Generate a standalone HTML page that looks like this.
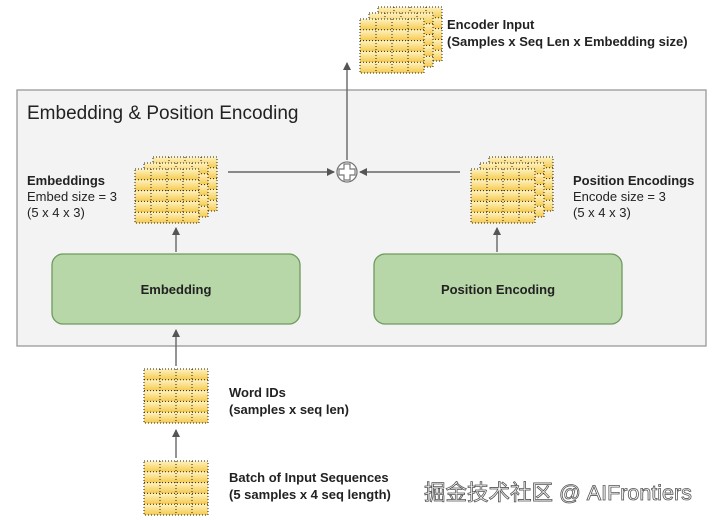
<!DOCTYPE html>
<html><head><meta charset="utf-8"><style>
body{margin:0;background:#fff}
svg{display:block;font-family:"Liberation Sans","Noto Sans CJK SC",sans-serif}
</style></head><body>
<svg width="720" height="520" viewBox="0 0 720 520">
<defs>
<linearGradient id="cg" x1="0" y1="0" x2="0" y2="1">
<stop offset="0" stop-color="#fff3c0"/><stop offset="1" stop-color="#f5c94e"/>
</linearGradient>
<g id="grid">
<rect x="0" y="0" width="64" height="54" fill="#f8d97a"/>
<g fill="url(#cg)">
<rect x="0" y="0" width="64" height="10.8"/><rect x="0" y="10.8" width="64" height="10.8"/>
<rect x="0" y="21.6" width="64" height="10.8"/><rect x="0" y="32.4" width="64" height="10.8"/>
<rect x="0" y="43.2" width="64" height="10.8"/>
</g>
<g stroke="#222" stroke-width="1" stroke-dasharray="1 2" fill="none">
<rect x="0" y="0" width="64" height="54"/>
<line x1="0" y1="10.8" x2="64" y2="10.8"/><line x1="0" y1="21.6" x2="64" y2="21.6"/>
<line x1="0" y1="32.4" x2="64" y2="32.4"/><line x1="0" y1="43.2" x2="64" y2="43.2"/>
<line x1="16" y1="0" x2="16" y2="54"/><line x1="32" y1="0" x2="32" y2="54"/><line x1="48" y1="0" x2="48" y2="54"/>
</g>
</g>
<g id="stack">
<use href="#grid" x="18" y="-12"/><use href="#grid" x="9" y="-6"/><use href="#grid" x="0" y="0"/>
</g>
<marker id="ah" markerWidth="8" markerHeight="8" refX="7" refY="4" orient="auto" markerUnits="userSpaceOnUse">
<path d="M0,0 L8,4 L0,8 z" fill="#555"/>
</marker>
</defs>

<rect x="17" y="90" width="689" height="256" fill="#f3f3f3" stroke="#999" stroke-width="1.3"/>
<text x="27" y="119" font-size="19" fill="#222">Embedding &amp; Position Encoding</text>

<use href="#stack" x="360" y="19"/>
<text x="447" y="29" font-size="13" font-weight="bold" fill="#222">Encoder Input</text>
<text x="447" y="46" font-size="13" font-weight="bold" fill="#222">(Samples x Seq Len x Embedding size)</text>

<use href="#stack" x="135" y="169"/>
<text x="27" y="185" font-size="13" font-weight="bold" fill="#222">Embeddings</text>
<text x="27" y="201" font-size="13" fill="#222">Embed size = 3</text>
<text x="27" y="217" font-size="13" fill="#222">(5 x 4 x 3)</text>

<use href="#stack" x="471" y="169"/>
<text x="573" y="185" font-size="13" font-weight="bold" fill="#222">Position Encodings</text>
<text x="573" y="201" font-size="13" fill="#222">Encode size = 3</text>
<text x="573" y="217" font-size="13" fill="#222">(5 x 4 x 3)</text>

<circle cx="347" cy="172" r="10" fill="#fff" stroke="#777" stroke-width="1.3"/>
<path d="M344,164 h6 v5 h5 v6 h-5 v5 h-6 v-5 h-5 v-6 h5 z" fill="#fff" stroke="#777" stroke-width="1.2"/>

<g stroke="#666" stroke-width="1.4" fill="none" marker-end="url(#ah)">
<line x1="228" y1="172" x2="334" y2="172"/>
<line x1="460" y1="172" x2="360" y2="172"/>
<line x1="347" y1="160" x2="347" y2="63"/>
<line x1="176" y1="252" x2="176" y2="228"/>
<line x1="497" y1="252" x2="497" y2="228"/>
<line x1="176" y1="366" x2="176" y2="330"/>
<line x1="176" y1="458" x2="176" y2="430"/>
</g>

<rect x="52" y="254" width="248" height="70" rx="11" fill="#b7d7a8" stroke="#6e9a5e" stroke-width="1.3"/>
<text x="176" y="294" font-size="13" font-weight="bold" text-anchor="middle" fill="#222">Embedding</text>
<rect x="374" y="254" width="248" height="70" rx="11" fill="#b7d7a8" stroke="#6e9a5e" stroke-width="1.3"/>
<text x="498" y="294" font-size="13" font-weight="bold" text-anchor="middle" fill="#222">Position Encoding</text>

<use href="#grid" x="144" y="369"/>
<text x="229" y="397" font-size="13" font-weight="bold" fill="#222">Word IDs</text>
<text x="229" y="414" font-size="13" font-weight="bold" fill="#222">(samples x seq len)</text>

<use href="#grid" x="144" y="461"/>
<text x="229" y="482" font-size="13" font-weight="bold" fill="#222">Batch of Input Sequences</text>
<text x="229" y="499" font-size="13" font-weight="bold" fill="#222">(5 samples x 4 seq length)</text>

<text x="424" y="500" font-size="21.5" fill="#ffffff" stroke="#555" stroke-width="0.8">掘金技术社区 @ AIFrontiers</text>
</svg>
</body></html>
